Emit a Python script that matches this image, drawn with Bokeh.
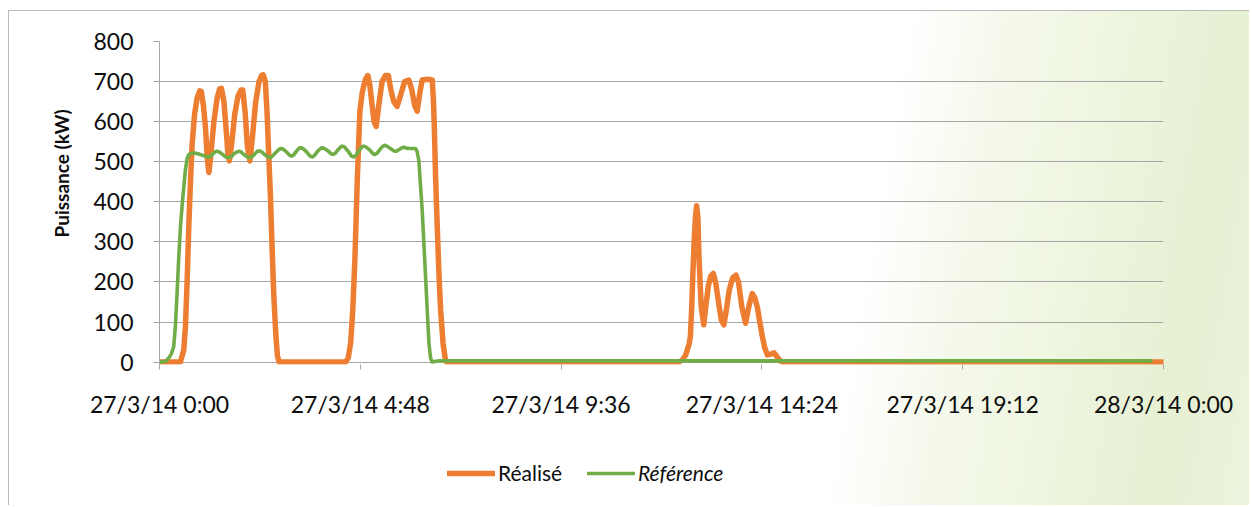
from bokeh.plotting import figure
from bokeh.layouts import column
from bokeh.models import Range1d, FixedTicker, Legend, LegendItem, Title
from bokeh.embed import file_html
from bokeh.resources import INLINE

# ---- data (hours after 27/3/14 0:00, kW) ----
hours_realise = [
    0.00, 0.50, 0.58, 0.62, 0.66, 0.70, 0.74, 0.78, 0.84, 0.90, 0.96, 1.00, 1.05, 1.10, 1.14, 1.18,
    1.22, 1.30, 1.38, 1.44, 1.48, 1.54, 1.59, 1.64, 1.67, 1.72, 1.80, 1.88, 1.95, 1.99, 2.05, 2.10,
    2.16, 2.22, 2.30, 2.38, 2.44, 2.48, 2.53, 2.57, 2.61, 2.65, 2.69, 2.73, 2.78, 2.82, 2.86,
    4.45, 4.51, 4.57, 4.62, 4.67, 4.73, 4.79, 4.85, 4.92, 4.98, 5.03, 5.08, 5.13, 5.18, 5.24, 5.32,
    5.40, 5.47, 5.53, 5.60, 5.68, 5.76, 5.86, 5.96, 6.03, 6.10, 6.16, 6.22, 6.28, 6.40, 6.52, 6.55,
    6.57, 6.60, 6.64, 6.68, 6.72, 6.78, 6.84, 6.88,
    12.41, 12.50, 12.58, 12.66, 12.69, 12.72, 12.75, 12.78, 12.81, 12.84, 12.87, 12.90, 12.95, 13.01,
    13.06, 13.12, 13.18, 13.24, 13.30, 13.38, 13.43, 13.49, 13.55, 13.62, 13.70, 13.78, 13.84, 13.92,
    14.01, 14.09, 14.17, 14.23, 14.29, 14.35, 14.41, 14.47, 14.53, 14.61, 14.69, 14.77, 14.85, 14.92,
    24.00,
]
realise_kw = [
    0, 0, 30, 89, 200, 337, 450, 544, 620, 659, 677, 675, 640, 584, 510, 473,
    510, 600, 660, 682, 683, 650, 584, 515, 502, 540, 620, 665, 679, 679, 620, 540,
    502, 560, 650, 700, 715, 717, 700, 625, 520, 420, 290, 172, 70, 15, 0,
    0, 10, 48, 130, 254, 460, 626, 675, 705, 715, 690, 642, 600, 588, 640, 700,
    715, 715, 680, 650, 638, 665, 700, 704, 680, 640, 626, 670, 704, 706, 704, 650,
    584, 460, 337, 220, 130, 45, 2, 0,
    0, 5, 18, 45, 64, 130, 221, 300, 360, 390, 360, 250, 138, 93,
    140, 190, 215, 221, 195, 138, 105, 93, 130, 180, 210, 217, 200, 138,
    97, 140, 171, 160, 138, 100, 64, 35, 18, 20, 23, 12, 2, 0,
    0,
]
hours_reference = [
    0.00, 0.15, 0.22, 0.28, 0.34, 0.38, 0.42, 0.46, 0.50, 0.54, 0.58, 0.62, 0.66, 0.70, 0.76, 0.84, 0.92,
    1.00, 1.08, 1.16, 1.22, 1.28, 1.34, 1.38, 1.42,
    1.50, 1.58, 1.66, 1.72, 1.78, 1.86, 1.90, 1.94,
    2.02, 2.10, 2.17, 2.22, 2.28, 2.34, 2.39, 2.44,
    2.51, 2.59, 2.65, 2.70, 2.78, 2.86, 2.91, 2.96,
    3.04, 3.11, 3.16, 3.21, 3.28, 3.34, 3.38, 3.43,
    3.52, 3.60, 3.65, 3.70, 3.78, 3.85, 3.89, 3.94,
    4.03, 4.10, 4.15, 4.20, 4.27, 4.33, 4.37, 4.42,
    4.51, 4.59, 4.64, 4.69, 4.77, 4.84, 4.88, 4.93,
    5.02, 5.10, 5.15, 5.20, 5.28, 5.34, 5.38, 5.43,
    5.52, 5.60, 5.66, 5.74, 5.80, 5.84, 5.90,
    5.98, 6.06, 6.12, 6.16, 6.20, 6.24, 6.28, 6.32, 6.36, 6.40, 6.44, 6.48, 6.52, 6.60, 6.70, 23.70,
]
reference_kw = [
    0, 2, 10, 20, 39, 90, 172, 260, 337, 390, 436, 480, 508, 518, 521, 522, 520,
    517, 514, 511, 514, 520, 525, 526, 525,
    519, 512, 510, 513, 520, 525, 526, 525,
    518, 512, 510, 513, 520, 526, 527, 525,
    518, 512, 510, 514, 523, 531, 533, 531,
    524, 516, 514, 517, 527, 534, 535, 533,
    524, 514, 512, 515, 526, 533, 535, 533,
    527, 520, 518, 521, 530, 537, 539, 537,
    526, 514, 512, 515, 528, 537, 539, 537,
    530, 520, 518, 521, 532, 539, 541, 539,
    533, 527, 526, 531, 535, 536, 534,
    533, 533, 533, 525, 502, 440, 378, 295, 213, 130, 48, 10, 0, 2, 3, 3,
]
x_ticks = [0, 4.8, 9.6, 14.4, 19.2, 24]
x_tick_labels = ["27/3/14 0:00", "27/3/14 4:48", "27/3/14 9:36",
                 "27/3/14 14:24", "27/3/14 19:12", "28/3/14 0:00"]
y_ticks = [0, 100, 200, 300, 400, 500, 600, 700, 800]
series_names = ["Réalisé", "Référence"]
y_title = "Puissance (kW)"

FONT = "Lato"
GRID = "#a6a6a6"
TEXT = "#0d0d0d"
ORANGE = "#ED7D31"
GREEN = "#70AD47"
W_ORANGE = 5.5
W_GREEN = 3.6

p = figure(
    width=1240, height=434, output_backend="svg", toolbar_location=None,
    x_range=Range1d(0, 24), y_range=Range1d(-6, 800),
    min_border_left=150, min_border_right=86, min_border_top=30, min_border_bottom=81,
)
p.background_fill_alpha = 0
p.border_fill_alpha = 0
p.outline_line_color = None

p.xgrid.visible = False
p.ygrid.ticker = FixedTicker(ticks=y_ticks)
p.ygrid.grid_line_color = GRID
p.ygrid.grid_line_width = 1

xa = p.xaxis[0]
xa.ticker = FixedTicker(ticks=x_ticks)
xa.major_label_overrides = {t: lab for t, lab in zip(x_ticks, x_tick_labels)}
xa.axis_line_color = None
xa.major_tick_line_color = GRID
xa.major_tick_out = 5
xa.major_tick_in = 0
xa.minor_tick_line_color = None
xa.major_label_standoff = 20
xa.major_label_text_font = FONT
xa.major_label_text_font_size = "23px"
xa.major_label_text_color = TEXT

ya = p.yaxis[0]
ya.ticker = FixedTicker(ticks=y_ticks)
ya.axis_line_color = GRID
ya.major_tick_line_color = GRID
ya.major_tick_out = 6
ya.major_tick_in = 0
ya.minor_tick_line_color = None
ya.major_label_standoff = 20
ya.major_label_text_font = FONT
ya.major_label_text_font_size = "23px"
ya.major_label_text_color = TEXT

p.line(hours_realise, realise_kw, line_color=ORANGE, line_width=W_ORANGE,
       line_join="round", line_cap="round")
p.line(hours_reference, reference_kw, line_color=GREEN, line_width=W_GREEN,
       line_join="round", line_cap="round")

title = Title(text=y_title, align="left", offset=127, standoff=36,
              text_font=FONT, text_font_size="19px", text_font_style="bold",
              text_color=TEXT)
p.add_layout(title, "left")

# ---- legend strip: a second, axis-less figure under the chart ----
# (same series, but its y range lies far above the data, so only the legend shows)
lg = figure(width=1240, height=60, output_backend="svg", toolbar_location=None,
            x_axis_type=None, y_axis_type=None,
            x_range=Range1d(0, 24), y_range=Range1d(5000, 5001), min_border=0)
lg.background_fill_alpha = 0
lg.border_fill_alpha = 0
lg.outline_line_color = None
lg.grid.visible = False
k1 = lg.line(hours_realise, realise_kw, line_color=ORANGE, line_width=W_ORANGE, line_cap="round")
k2 = lg.line(hours_reference, reference_kw, line_color=GREEN, line_width=W_GREEN, line_cap="round")

common = dict(padding=0, margin=0, border_line_color=None, background_fill_alpha=0,
              glyph_width=48, glyph_height=20, label_height=20, label_standoff=3,
              label_text_font=FONT, label_text_font_size="21px", label_text_color=TEXT,
              label_text_baseline="middle")
leg1 = Legend(items=[LegendItem(label=series_names[0], renderers=[k1])],
              location=(288, 20), **common)
leg2 = Legend(items=[LegendItem(label=series_names[1], renderers=[k2])],
              location=(428, 20), label_text_font_style="italic", **common)
lg.add_layout(leg1)
lg.add_layout(leg2)

page = column(p, lg, spacing=0, styles={
    "margin": "10px 0 0 8px",
    "border-left": "1px solid #bcbcbc",
    "border-top": "1px solid #bcbcbc",
    "background": "linear-gradient(100deg, #ffffff 0%, #ffffff 68%, #f5f9ec 75%, "
                  "#eef5df 84%, #e6f0d2 93%, #ecf4de 100%)",
})

open("out.html", "w").write(file_html(page, INLINE))
